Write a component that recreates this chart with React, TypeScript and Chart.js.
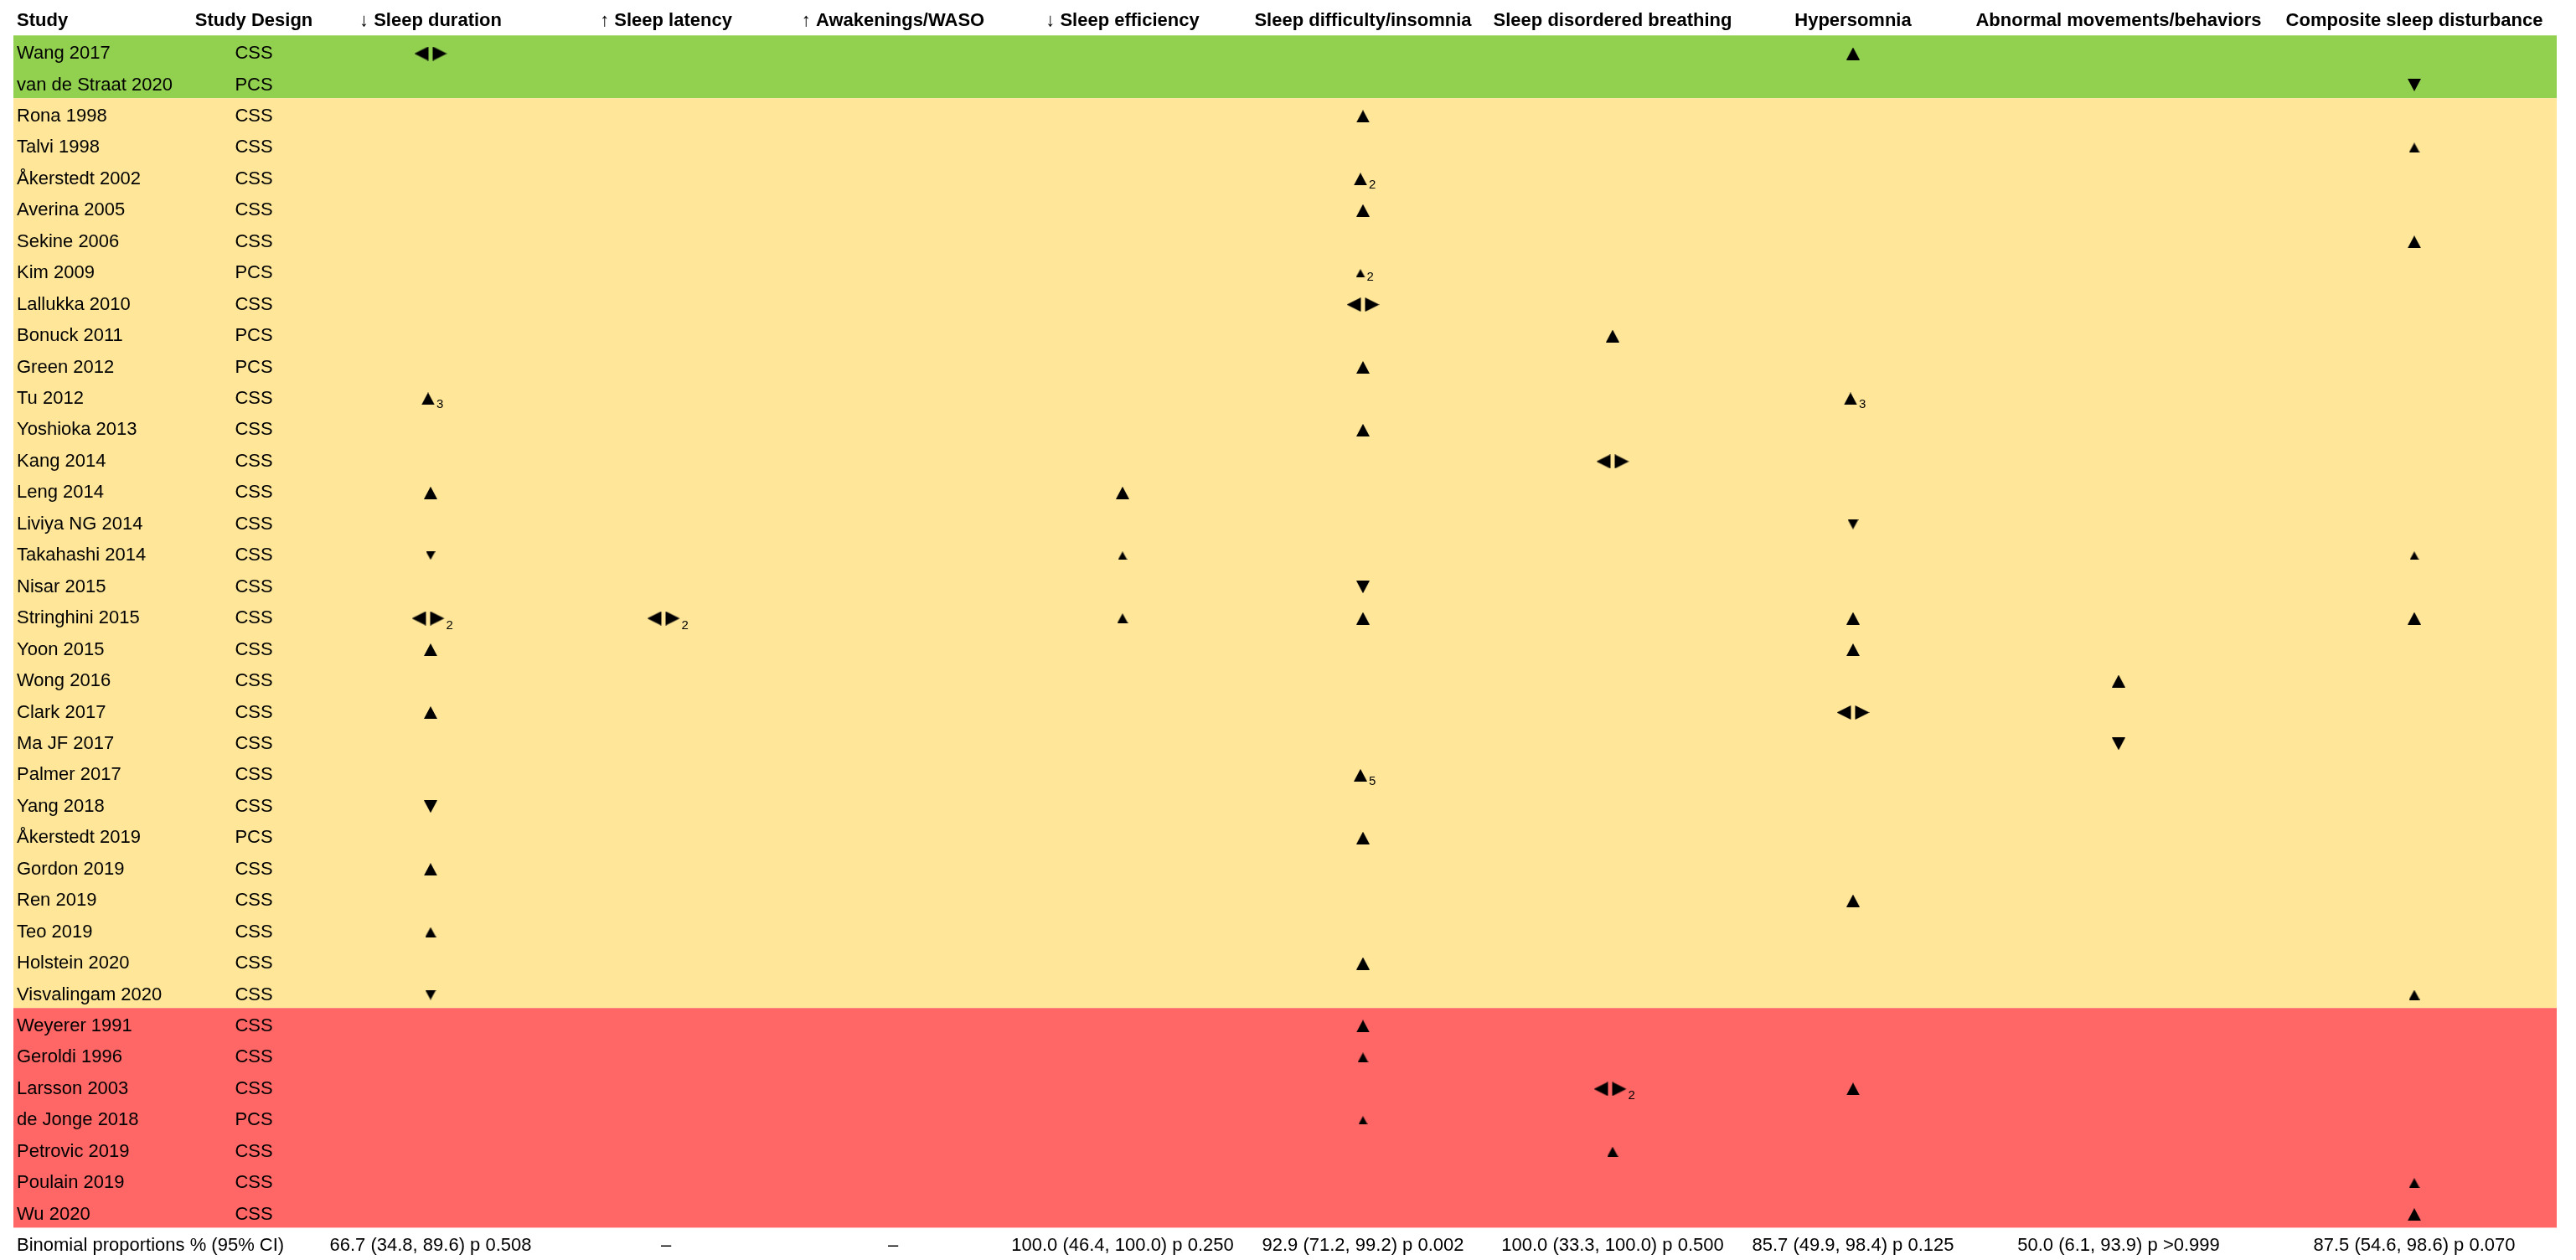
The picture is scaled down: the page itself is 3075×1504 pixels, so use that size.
import { useEffect, useRef } from 'react';
import { Chart, registerables } from 'chart.js';

Chart.register(...registerables);

// ---- Data -------------------------------------------------------------

const studies = [
  'Wang 2017', 'van de Straat 2020', 'Rona 1998', 'Talvi 1998', 'Åkerstedt 2002', 'Averina 2005',
  'Sekine 2006', 'Kim 2009', 'Lallukka 2010', 'Bonuck 2011', 'Green 2012', 'Tu 2012',
  'Yoshioka 2013', 'Kang 2014', 'Leng 2014', 'Liviya NG 2014', 'Takahashi 2014', 'Nisar 2015',
  'Stringhini 2015', 'Yoon 2015', 'Wong 2016', 'Clark 2017', 'Ma JF 2017', 'Palmer 2017',
  'Yang 2018', 'Åkerstedt 2019', 'Gordon 2019', 'Ren 2019', 'Teo 2019', 'Holstein 2020',
  'Visvalingam 2020', 'Weyerer 1991', 'Geroldi 1996', 'Larsson 2003', 'de Jonge 2018',
  'Petrovic 2019', 'Poulain 2019', 'Wu 2020',
];

const studyDesigns = [
  'CSS', 'PCS', 'CSS', 'CSS', 'CSS', 'CSS',
  'CSS', 'PCS', 'CSS', 'PCS', 'PCS', 'CSS',
  'CSS', 'CSS', 'CSS', 'CSS', 'CSS', 'CSS',
  'CSS', 'CSS', 'CSS', 'CSS', 'CSS', 'CSS',
  'CSS', 'PCS', 'CSS', 'CSS', 'CSS', 'CSS',
  'CSS', 'CSS', 'CSS', 'CSS', 'PCS',
  'CSS', 'CSS', 'CSS',
];

type Quality = 'good' | 'fair' | 'poor';
const studyQuality: Quality[] = [
  'good', 'good',
  'fair', 'fair', 'fair', 'fair', 'fair', 'fair', 'fair', 'fair', 'fair', 'fair',
  'fair', 'fair', 'fair', 'fair', 'fair', 'fair', 'fair', 'fair', 'fair', 'fair',
  'fair', 'fair', 'fair', 'fair', 'fair', 'fair', 'fair', 'fair', 'fair',
  'poor', 'poor', 'poor', 'poor', 'poor', 'poor', 'poor',
];

const outcomeLabels = [
  '↓ Sleep duration', '↑ Sleep latency', '↑ Awakenings/WASO', '↓ Sleep efficiency',
  'Sleep difficulty/insomnia', 'Sleep disordered breathing', 'Hypersomnia',
  'Abnormal movements/behaviors', 'Composite sleep disturbance',
];

const summaryTitle = 'Binomial proportions % (95% CI)';
const summaryLabels = [
  '66.7 (34.8, 89.6) p 0.508', '–', '–', '100.0 (46.4, 100.0) p 0.250',
  '92.9 (71.2, 99.2) p 0.002', '100.0 (33.3, 100.0) p 0.500', '85.7 (49.9, 98.4) p 0.125',
  '50.0 (6.1, 93.9) p >0.999', '87.5 (54.6, 98.6) p 0.070',
];

// [study, direction of association, marker weight (1-3), number of analyses]
type Direction = 'up' | 'down' | 'null';
type Finding = [string, Direction, number, number?];

const sleepDuration: Finding[] = [
  ['Wang 2017', 'null', 3],
  ['Tu 2012', 'up', 3, 3],
  ['Leng 2014', 'up', 3],
  ['Takahashi 2014', 'down', 1],
  ['Stringhini 2015', 'null', 3, 2],
  ['Yoon 2015', 'up', 3],
  ['Clark 2017', 'up', 3],
  ['Yang 2018', 'down', 3],
  ['Gordon 2019', 'up', 3],
  ['Teo 2019', 'up', 2],
  ['Visvalingam 2020', 'down', 2],
];

const sleepLatency: Finding[] = [
  ['Stringhini 2015', 'null', 3, 2],
];

const awakeningsWaso: Finding[] = [];

const sleepEfficiency: Finding[] = [
  ['Leng 2014', 'up', 3],
  ['Takahashi 2014', 'up', 1],
  ['Stringhini 2015', 'up', 2],
];

const insomnia: Finding[] = [
  ['Rona 1998', 'up', 3],
  ['Åkerstedt 2002', 'up', 3, 2],
  ['Averina 2005', 'up', 3],
  ['Kim 2009', 'up', 1, 2],
  ['Lallukka 2010', 'null', 3],
  ['Green 2012', 'up', 3],
  ['Yoshioka 2013', 'up', 3],
  ['Nisar 2015', 'down', 3],
  ['Stringhini 2015', 'up', 3],
  ['Palmer 2017', 'up', 3, 5],
  ['Åkerstedt 2019', 'up', 3],
  ['Holstein 2020', 'up', 3],
  ['Weyerer 1991', 'up', 3],
  ['Geroldi 1996', 'up', 2],
  ['de Jonge 2018', 'up', 1],
];

const disorderedBreathing: Finding[] = [
  ['Bonuck 2011', 'up', 3],
  ['Kang 2014', 'null', 3],
  ['Larsson 2003', 'null', 3, 2],
  ['Petrovic 2019', 'up', 2],
];

const hypersomnia: Finding[] = [
  ['Wang 2017', 'up', 3],
  ['Tu 2012', 'up', 3, 3],
  ['Liviya NG 2014', 'down', 2],
  ['Stringhini 2015', 'up', 3],
  ['Yoon 2015', 'up', 3],
  ['Clark 2017', 'null', 3],
  ['Ren 2019', 'up', 3],
  ['Larsson 2003', 'up', 3],
];

const abnormalMovements: Finding[] = [
  ['Wong 2016', 'up', 3],
  ['Ma JF 2017', 'down', 3],
];

const compositeDisturbance: Finding[] = [
  ['van de Straat 2020', 'down', 3],
  ['Talvi 1998', 'up', 2],
  ['Sekine 2006', 'up', 3],
  ['Takahashi 2014', 'up', 1],
  ['Stringhini 2015', 'up', 3],
  ['Visvalingam 2020', 'up', 2],
  ['Poulain 2019', 'up', 2],
  ['Wu 2020', 'up', 3],
];

const findingsByOutcome = [
  sleepDuration, sleepLatency, awakeningsWaso, sleepEfficiency, insomnia,
  disorderedBreathing, hypersomnia, abnormalMovements, compositeDisturbance,
];

// ---- Layout -----------------------------------------------------------

const CANVAS_W = 3075;
const CANVAS_H = 1504;
const FIRST_ROW_PX = 64;
const ROW_STEP_PX = 37.45;
const Y_MIN = -FIRST_ROW_PX / ROW_STEP_PX;
const Y_MAX = (CANVAS_H - FIRST_ROW_PX) / ROW_STEP_PX;
const HEADER_ROW = -1.04;
const SUMMARY_ROW = studies.length;
const BAND_ABOVE = 0.58;
const BAND_BELOW = 0.42;

// horizontal anchors, in x-scale units
const STUDY_X = 20;
const DESIGN_X = 303;
const COLUMN_X = [514, 795, 1066, 1340, 1627, 1925, 2212, 2529, 2882];
const BAND_LEFT = 16;
const BAND_RIGHT = 3052;

const QUALITY_COLORS: Record<Quality, string> = {
  good: '#92D050',
  fair: '#FFE699',
  poor: '#FF6666',
};

const FONT_FAMILY = '"Liberation Sans", Arial, Helvetica, sans-serif';
const TEXT_SIZE = 22;
const SUB_SIZE = 15;

// triangle [base, height] per weight
const TRI_SIZE: Record<number, [number, number]> = { 1: [11, 10], 2: [13, 12], 3: [16, 15] };
const PAIR_TRI_W = 17;
const PAIR_H = 17;
const PAIR_GAP = 5;
const SUB_PAD = 6;

type MarkerPoint = { x: number; y: number; dir: Direction; weight: number; sub?: number };

function markerBox(dir: Direction, weight: number): [number, number] {
  if (dir === 'null') return [PAIR_TRI_W * 2 + PAIR_GAP, PAIR_H];
  return TRI_SIZE[weight];
}

function buildMarker(dir: Direction, weight: number, hasSub: boolean): HTMLCanvasElement {
  const [w, h] = markerBox(dir, weight);
  const c = document.createElement('canvas');
  c.width = w + (hasSub ? SUB_PAD : 0);
  c.height = h;
  const g = c.getContext('2d')!;
  g.fillStyle = '#000';
  g.beginPath();
  if (dir === 'up') {
    g.moveTo(0, h);
    g.lineTo(w / 2, 0);
    g.lineTo(w, h);
  } else if (dir === 'down') {
    g.moveTo(0, 0);
    g.lineTo(w, 0);
    g.lineTo(w / 2, h);
  } else {
    g.moveTo(0, h / 2);
    g.lineTo(PAIR_TRI_W, 0);
    g.lineTo(PAIR_TRI_W, h);
    g.closePath();
    const rx = PAIR_TRI_W + PAIR_GAP;
    g.moveTo(rx, 0);
    g.lineTo(rx + PAIR_TRI_W, h / 2);
    g.lineTo(rx, h);
  }
  g.closePath();
  g.fill();
  return c;
}

const harvestPlugin = {
  id: 'harvestTable',
  beforeDatasetsDraw(chart: any) {
    const { ctx, scales } = chart;
    const xs = scales.x;
    const ys = scales.y;
    const left = xs.getPixelForValue(BAND_LEFT);
    const right = xs.getPixelForValue(BAND_RIGHT);
    ctx.save();
    let start = 0;
    for (let i = 1; i <= studies.length; i++) {
      if (i === studies.length || studyQuality[i] !== studyQuality[start]) {
        const top = ys.getPixelForValue(start - BAND_ABOVE);
        const bottom = ys.getPixelForValue(i - 1 + BAND_BELOW);
        ctx.fillStyle = QUALITY_COLORS[studyQuality[start]];
        ctx.fillRect(left, top, right - left, bottom - top);
        start = i;
      }
    }
    ctx.restore();
  },
  afterDatasetsDraw(chart: any) {
    const { ctx, scales } = chart;
    const xs = scales.x;
    const ys = scales.y;
    ctx.save();
    ctx.fillStyle = '#000';
    ctx.textBaseline = 'middle';

    // header row
    const hy = ys.getPixelForValue(HEADER_ROW);
    ctx.font = `bold ${TEXT_SIZE}px ${FONT_FAMILY}`;
    ctx.textAlign = 'left';
    ctx.fillText('Study', xs.getPixelForValue(STUDY_X), hy);
    ctx.textAlign = 'center';
    ctx.fillText('Study Design', xs.getPixelForValue(DESIGN_X), hy);
    outcomeLabels.forEach((label, i) => {
      ctx.fillText(label, xs.getPixelForValue(COLUMN_X[i]), hy);
    });

    // study rows
    ctx.font = `${TEXT_SIZE}px ${FONT_FAMILY}`;
    studies.forEach((name, r) => {
      const py = ys.getPixelForValue(r);
      ctx.textAlign = 'left';
      ctx.fillText(name, xs.getPixelForValue(STUDY_X), py);
      ctx.textAlign = 'center';
      ctx.fillText(studyDesigns[r], xs.getPixelForValue(DESIGN_X), py);
    });

    // summary row
    const sy = ys.getPixelForValue(SUMMARY_ROW);
    ctx.textAlign = 'left';
    ctx.fillText(summaryTitle, xs.getPixelForValue(STUDY_X), sy);
    ctx.textAlign = 'center';
    summaryLabels.forEach((label, i) => {
      ctx.fillText(label, xs.getPixelForValue(COLUMN_X[i]), sy);
    });

    // analysis counts next to markers
    ctx.font = `${SUB_SIZE}px ${FONT_FAMILY}`;
    ctx.textAlign = 'left';
    ctx.textBaseline = 'alphabetic';
    chart.data.datasets.forEach((ds: any, di: number) => {
      const meta = chart.getDatasetMeta(di);
      ds.data.forEach((p: MarkerPoint, j: number) => {
        if (p.sub == null) return;
        const el = meta.data[j];
        const [w, h] = markerBox(p.dir, p.weight);
        const edge = el.x + w / 2 - SUB_PAD / 2;
        ctx.fillText(String(p.sub), edge + 2, el.y + h / 2 + 4);
      });
    });
    ctx.restore();
  },
};

export default function App() {
  const canvasRef = useRef<HTMLCanvasElement>(null);

  useEffect(() => {
    const canvas = canvasRef.current;
    if (!canvas) return;

    const cache = new Map<string, HTMLCanvasElement>();
    const markerFor = (p: MarkerPoint) => {
      const key = `${p.dir}-${p.weight}-${p.sub != null}`;
      if (!cache.has(key)) cache.set(key, buildMarker(p.dir, p.weight, p.sub != null));
      return cache.get(key)!;
    };

    const datasets = findingsByOutcome.map((list, col) => {
      const points: MarkerPoint[] = list.map(([study, dir, weight, sub]) => ({
        x: COLUMN_X[col],
        y: studies.indexOf(study),
        dir,
        weight,
        sub,
      }));
      return {
        label: outcomeLabels[col],
        data: points,
        pointStyle: points.map(markerFor),
        pointRadius: 4,
        pointHoverRadius: 4,
        showLine: false,
      };
    });

    const chart = new Chart(canvas, {
      type: 'scatter',
      data: { datasets: datasets as any },
      options: {
        animation: false,
        responsive: false,
        devicePixelRatio: 1,
        events: [],
        layout: { padding: 0, autoPadding: false },
        plugins: {
          legend: { display: false },
          tooltip: { enabled: false },
        },
        scales: {
          x: { type: 'linear', min: 0, max: CANVAS_W, display: false },
          y: { type: 'linear', min: Y_MIN, max: Y_MAX, reverse: true, display: false },
        },
      },
      plugins: [harvestPlugin],
    });

    return () => chart.destroy();
  }, []);

  return (
    <div
      style={{
        position: 'fixed',
        left: 0,
        top: 0,
        width: CANVAS_W,
        height: CANVAS_H,
        background: '#ffffff',
      }}
    >
      <canvas
        ref={canvasRef}
        width={CANVAS_W}
        height={CANVAS_H}
        style={{ display: 'block', width: CANVAS_W, height: CANVAS_H }}
      />
    </div>
  );
}
